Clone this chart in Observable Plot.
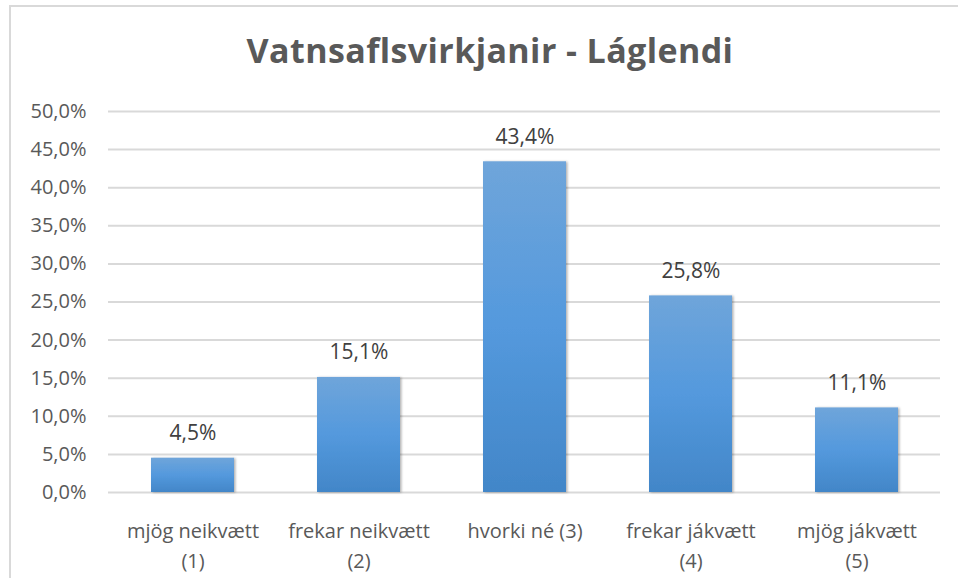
<!DOCTYPE html>
<html>
<head>
<meta charset="utf-8">
<script src="https://cdn.jsdelivr.net/npm/d3@7"></script>
<script src="https://cdn.jsdelivr.net/npm/@observablehq/plot@0.6"></script>
<style>
  html, body { margin: 0; padding: 0; background: #fff; }
  body { width: 958px; height: 578px; position: relative; overflow: hidden; font-family: "Open Sans", sans-serif; }
  #frame { position: absolute; left: 9px; top: 5px; width: 970px; height: 600px; border-left: 2px solid #d9d9d9; border-top: 2px solid #d9d9d9; }
  #title { position: absolute; left: 0; top: 27px; width: 980px; text-align: center; font-size: 34px; font-weight: bold; color: #595959; letter-spacing: 0.4px; }
  #chart { position: absolute; left: 0; top: 80px; }
</style>
</head>
<body>
<div id="frame"></div>
<div id="title">Vatnsaflsvirkjanir - Láglendi</div>
<div id="chart"></div>
<script>
const categories = ["mjög neikvætt\n(1)", "frekar neikvætt\n(2)", "hvorki né (3)", "frekar jákvætt\n(4)", "mjög jákvætt\n(5)"];
const values = [4.5, 15.1, 43.4, 25.8, 11.1];
const yTicks = [0, 5, 10, 15, 20, 25, 30, 35, 40, 45, 50];

const data = categories.map((c, i) => ({cat: c, v: values[i]}));
const fmt = v => v.toFixed(1).replace(".", ",") + "%";

const chart = Plot.plot({
  width: 958,
  height: 498,
  marginTop: 31,
  marginBottom: 86,
  marginLeft: 108,
  marginRight: 18,
  style: {fontFamily: "Open Sans, sans-serif", background: "transparent"},
  x: {domain: categories, paddingInner: 0.5, paddingOuter: 0.25, label: null},
  y: {domain: [0, 50], label: null},
  marks: [
    Plot.gridY(yTicks, {stroke: "#d9d9d9", strokeOpacity: 1, strokeWidth: 2}),
    Plot.barY(data, {x: "cat", y: "v", fill: "url(#barGrad)"}),
    Plot.text(data, {x: "cat", y: "v", text: d => fmt(d.v), lineAnchor: "bottom", dy: -18, fontSize: 21, fill: "#404040", letterSpacing: "0.6px"}),
    Plot.axisY(yTicks, {tickSize: 0, tickPadding: 22, tickFormat: v => fmt(v), fontSize: 20, fill: "#595959", letterSpacing: "0.9px"}),
    Plot.axisX({tickSize: 0, tickPadding: 24, fontSize: 20, lineHeight: 1.5, fill: "#595959", letterSpacing: "0.8px"})
  ]
});

const svg = d3.select(chart);
const defs = svg.insert("defs", ":first-child");
const g = defs.append("linearGradient").attr("id", "barGrad").attr("x1", 0).attr("y1", 0).attr("x2", 0).attr("y2", 1);
g.append("stop").attr("offset", "0%").attr("stop-color", "#6fa5da");
g.append("stop").attr("offset", "50%").attr("stop-color", "#5499dd");
g.append("stop").attr("offset", "100%").attr("stop-color", "#4286c8");
const f = defs.append("filter").attr("id", "shadow").attr("x", "-10%").attr("y", "-10%").attr("width", "130%").attr("height", "130%");
f.append("feDropShadow").attr("dx", 1.5).attr("dy", 0.5).attr("stdDeviation", 1.2).attr("flood-color", "#000").attr("flood-opacity", 0.3);
svg.selectAll("g[aria-label='bar'] rect").attr("filter", "url(#shadow)");

document.getElementById("chart").appendChild(chart);
</script>
</body>
</html>
